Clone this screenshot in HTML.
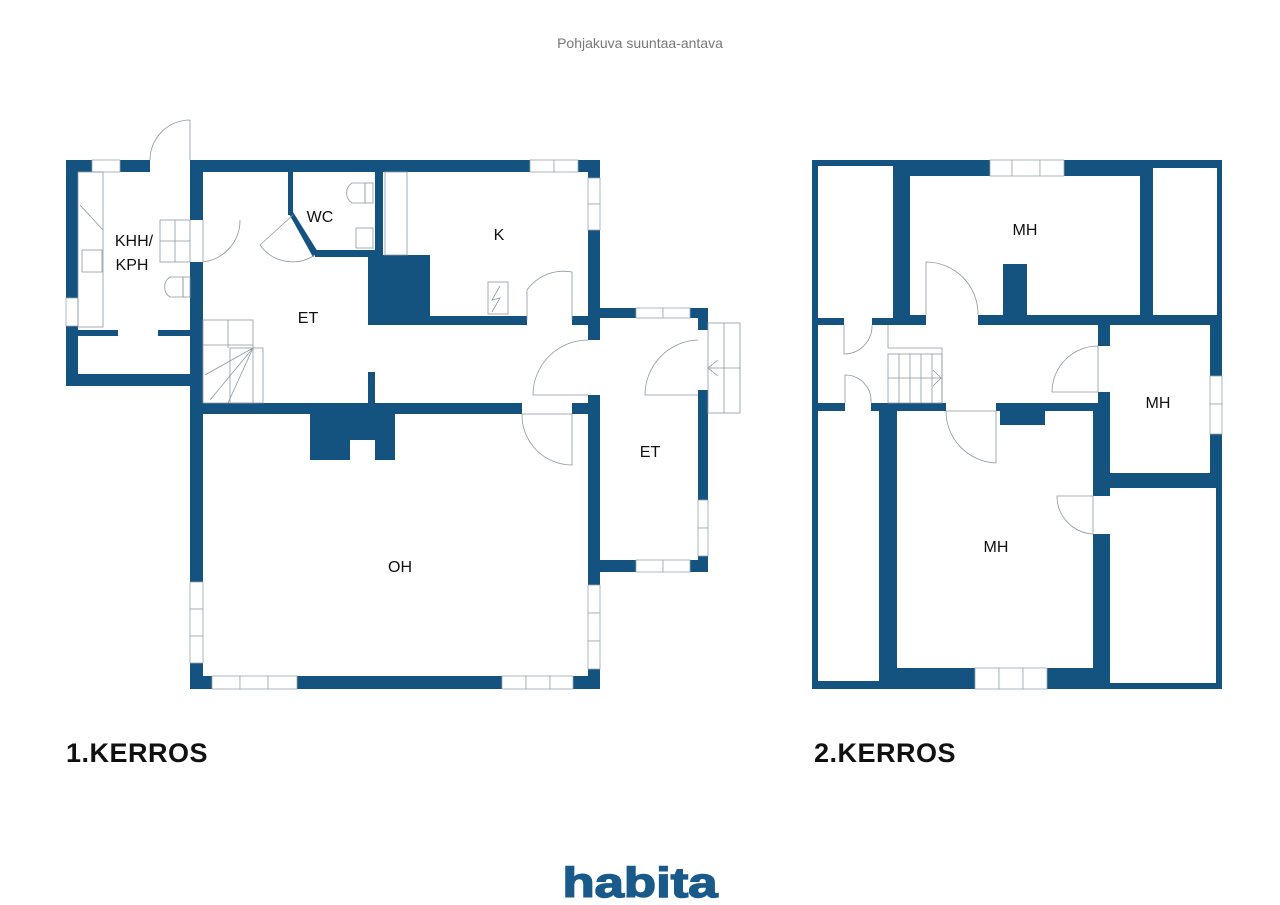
<!DOCTYPE html>
<html><head><meta charset="utf-8"><style>
html,body{margin:0;padding:0;background:#fff;}
svg{display:block}
</style></head><body>
<svg width="1280" height="905" viewBox="0 0 1280 905" xmlns="http://www.w3.org/2000/svg" font-family="Liberation Sans, sans-serif">
<rect width="1280" height="905" fill="#fff"/>
<text x="640" y="48" text-anchor="middle" font-size="14" fill="#777">Pohjakuva suuntaa-antava</text>

<g fill="#14537f">
<rect x="66" y="160" width="126" height="226"/>
<rect x="190" y="160" width="410" height="529"/>
<rect x="588" y="308" width="120" height="264"/>
</g>
<g fill="#fff">
<rect x="78" y="172" width="112" height="202"/>
<rect x="203" y="172" width="385" height="231"/>
<rect x="203" y="414" width="385" height="262"/>
<rect x="600" y="318" width="98" height="242"/>
</g>
<g fill="#14537f">
<rect x="78" y="330" width="40" height="6"/>
<rect x="158" y="330" width="32" height="6"/>
<rect x="288" y="172" width="5" height="43"/>
<rect x="375" y="172" width="8" height="83"/>
<rect x="315" y="250" width="68" height="7"/>
<polygon points="288,212 293,212 318,252 313,257"/>
<rect x="368" y="255" width="62" height="70"/>
<rect x="430" y="316" width="158" height="9"/>
<rect x="368" y="372" width="7" height="31"/>
<rect x="310" y="414" width="85" height="46"/>
</g>
<rect x="350" y="440" width="25" height="20" fill="#fff"/>
<g fill="#fff" stroke="#9aa6b0" stroke-width="0.8">
<rect x="92" y="160" width="28" height="12"/>
<rect x="150" y="160" width="40" height="12" stroke="none"/>
<rect x="530" y="160" width="24" height="12"/><rect x="554" y="160" width="24" height="12"/>
<rect x="588" y="178" width="12" height="26"/><rect x="588" y="204" width="12" height="26"/>
<rect x="66" y="298" width="12" height="28"/>
<rect x="190" y="220" width="13" height="42" stroke="none"/>
<rect x="527" y="316" width="45" height="9" stroke="none"/>
<rect x="588" y="340" width="12" height="55" stroke="none"/>
<rect x="522" y="403" width="50" height="11" stroke="none"/>
<rect x="698" y="330" width="10" height="60" stroke="none"/>
<rect x="636" y="308" width="27" height="10"/><rect x="663" y="308" width="27" height="10"/>
<rect x="636" y="560" width="27" height="12"/><rect x="663" y="560" width="27" height="12"/>
<rect x="698" y="500" width="10" height="28"/><rect x="698" y="528" width="10" height="28"/>
<rect x="190" y="582" width="13" height="27"/><rect x="190" y="609" width="13" height="27"/><rect x="190" y="636" width="13" height="27"/>
<rect x="588" y="585" width="12" height="28"/><rect x="588" y="613" width="12" height="28"/><rect x="588" y="641" width="12" height="28"/>
<rect x="212" y="676" width="28" height="13"/><rect x="240" y="676" width="28" height="13"/><rect x="268" y="676" width="29" height="13"/>
<rect x="502" y="676" width="24" height="13"/><rect x="526" y="676" width="24" height="13"/><rect x="550" y="676" width="23" height="13"/>
</g>
<g fill="none" stroke="#8c99a4" stroke-width="0.8">
<path d="M150 160 A40 40 0 0 1 190 120 L190 160"/>
<path d="M203 220 L203 262 A42 42 0 0 0 240 220"/>
<path d="M293 215 L260 245 A40 40 0 0 0 315 255"/>
<path d="M527 320 L527 290 A45 45 0 0 1 572 272 L572 320"/>
<path d="M588 340 A55 55 0 0 0 533 395 L588 395"/>
<path d="M522 414 L572 414 L572 465 A50 50 0 0 1 522 414"/>
<path d="M698 340 A55 55 0 0 0 645 395 L698 395"/>
<rect x="708" y="323" width="32" height="90"/><line x1="724" y1="323" x2="724" y2="413"/><line x1="708" y1="368" x2="740" y2="368"/>
<path d="M718 360 L708 368 L718 376"/>
<rect x="203" y="320" width="50" height="83"/><rect x="230" y="348" width="33" height="55"/>
<line x1="203" y1="345" x2="253" y2="345"/><line x1="228" y1="320" x2="228" y2="348"/>
<line x1="253" y1="348" x2="205" y2="375"/><line x1="253" y1="348" x2="210" y2="400"/><line x1="253" y1="348" x2="228" y2="403"/>
<rect x="160" y="220" width="30" height="42"/><line x1="175" y1="220" x2="175" y2="262"/><line x1="160" y1="241" x2="190" y2="241"/>
<path d="M183 277 L170 277 A12 12 0 0 0 170 297 L183 297 Z"/><rect x="183" y="277" width="7" height="20"/>
<path d="M365 183 L352 183 A12 12 0 0 0 352 203 L365 203 Z"/><rect x="365" y="183" width="8" height="20"/>
<rect x="356" y="228" width="17" height="20"/>
<rect x="385" y="172" width="22" height="83"/>
<rect x="488" y="282" width="20" height="32"/><path d="M500 286 L492 300 L500 298 L492 312"/>
<rect x="78" y="172" width="25" height="155"/><line x1="80" y1="205" x2="103" y2="230"/>
<rect x="82" y="250" width="20" height="22"/>
</g>
<g font-size="16" fill="#111" text-anchor="middle">
<text x="134" y="246">KHH/</text><text x="132" y="270">KPH</text>
<text x="320" y="222">WC</text><text x="499" y="240">K</text>
<text x="308" y="323">ET</text><text x="650" y="457">ET</text>
<text x="400" y="572">OH</text>
</g>

<rect x="812" y="160" width="410" height="529" fill="#14537f"/>
<g fill="#fff">
<rect x="818" y="166" width="75" height="152"/>
<rect x="910" y="176" width="230" height="139"/>
<rect x="1153" y="168" width="64" height="147"/>
<rect x="818" y="325" width="280" height="78"/>
<rect x="1110" y="325" width="100" height="148"/>
<rect x="818" y="411" width="61" height="270"/>
<rect x="897" y="411" width="196" height="257"/>
<rect x="1110" y="488" width="106" height="195"/>
</g>
<g fill="#14537f">
<rect x="1003" y="264" width="24" height="51"/>
<rect x="1000" y="411" width="45" height="14"/>
</g>
<g fill="#fff" stroke="#9aa6b0" stroke-width="0.8">
<rect x="990" y="160" width="22" height="16"/><rect x="1012" y="160" width="28" height="16"/><rect x="1040" y="160" width="24" height="16"/>
<rect x="926" y="315" width="52" height="10" stroke="none"/>
<rect x="844" y="318" width="28" height="7" stroke="none"/>
<rect x="845" y="403" width="26" height="8" stroke="none"/>
<rect x="946" y="403" width="50" height="8" stroke="none"/>
<rect x="1098" y="346" width="12" height="46" stroke="none"/>
<rect x="1093" y="496" width="17" height="38" stroke="none"/>
<rect x="1210" y="376" width="12" height="28"/><rect x="1210" y="404" width="12" height="30"/>
<rect x="975" y="668" width="24" height="21"/><rect x="999" y="668" width="24" height="21"/><rect x="1023" y="668" width="24" height="21"/>
</g>
<g fill="none" stroke="#8c99a4" stroke-width="0.8">
<path d="M926 315 L926 262 A52 52 0 0 1 978 315"/>
<path d="M844 325 L844 354 A28 28 0 0 0 872 325"/>
<path d="M845 403 L845 375 A26 26 0 0 1 871 403"/>
<path d="M1098 346 L1098 392 L1052 392 A46 46 0 0 1 1098 346"/>
<path d="M946 411 L996 411 L996 463 A52 52 0 0 1 946 411"/>
<path d="M1093 496 L1093 534 A38 38 0 0 1 1057 496 Z"/>
<path d="M888 325 L888 348 L942 348 L942 403"/>
<rect x="888" y="354" width="54" height="49"/><line x1="899" y1="354" x2="899" y2="403"/><line x1="910" y1="354" x2="910" y2="403"/><line x1="921" y1="354" x2="921" y2="403"/><line x1="932" y1="354" x2="932" y2="403"/><line x1="888" y1="378" x2="942" y2="378"/>
<path d="M933 370 L941 378 L933 386"/>
</g>
<g font-size="16" fill="#111" text-anchor="middle">
<text x="1025" y="235">MH</text><text x="1158" y="408">MH</text><text x="996" y="552">MH</text>
</g>

<text x="66" y="762" font-size="27" font-weight="bold" fill="#111" letter-spacing="0.5">1.KERROS</text>
<text x="814" y="762" font-size="27" font-weight="bold" fill="#111" letter-spacing="0.5">2.KERROS</text>
<text x="640" y="897" text-anchor="middle" font-size="42" font-weight="bold" fill="#1a5a8a" stroke="#1a5a8a" stroke-width="1.5" textLength="155" lengthAdjust="spacingAndGlyphs">habita</text>
</svg>
</body></html>
